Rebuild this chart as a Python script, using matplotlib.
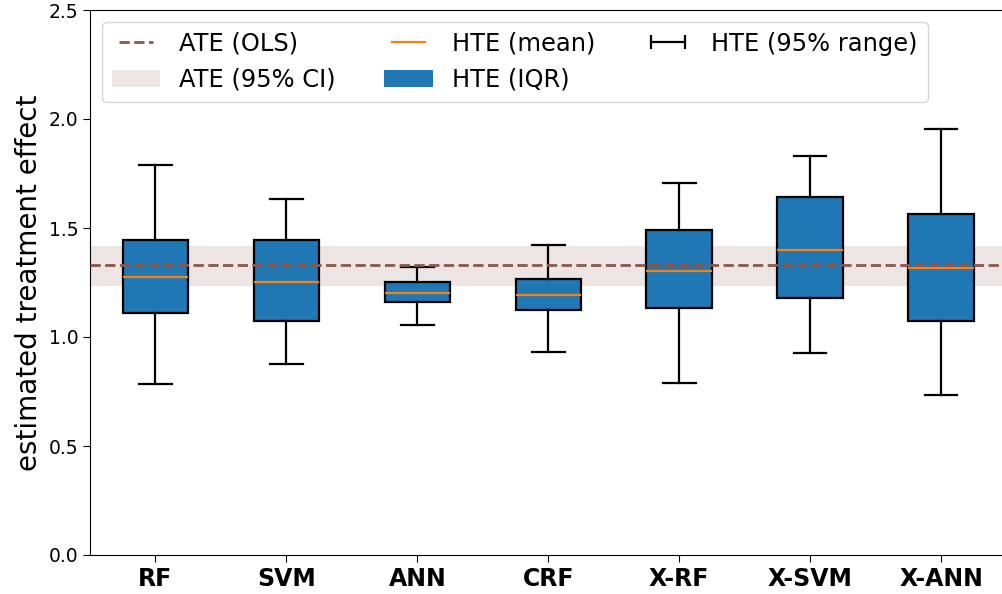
import numpy as np
import matplotlib.pyplot as plt
from matplotlib.lines import Line2D
from matplotlib.patches import Patch

# values
models = ['RF', 'SVM', 'ANN', 'CRF', 'X-RF', 'X-SVM', 'X-ANN']
hte_mean = [1.277, 1.251, 1.203, 1.193, 1.304, 1.399, 1.317]
hte_q1 = [1.109, 1.073, 1.162, 1.125, 1.135, 1.179, 1.075]
hte_q3 = [1.445, 1.445, 1.254, 1.266, 1.489, 1.644, 1.564]
hte_lo = [0.786, 0.875, 1.054, 0.930, 0.787, 0.928, 0.734]
hte_hi = [1.789, 1.633, 1.321, 1.424, 1.705, 1.830, 1.954]
ate_ols = 1.331
ate_ci = [1.235, 1.416]

fig = plt.figure(figsize=(10.02, 5.94), dpi=100)
ax = fig.add_axes([90 / 1002, 39 / 594, 916.5 / 1002, 545 / 594])

# ATE band + line
ax.axhspan(ate_ci[0], ate_ci[1], color='tab:brown', alpha=0.15, lw=0, zorder=0)
ax.axhline(ate_ols, color='tab:brown', ls='--', lw=2, zorder=3)

stats = []
for i in range(len(models)):
    stats.append({'med': hte_mean[i], 'q1': hte_q1[i], 'q3': hte_q3[i],
                  'whislo': hte_lo[i], 'whishi': hte_hi[i], 'fliers': [],
                  'label': models[i]})

ax.bxp(stats, widths=0.5, patch_artist=True, showfliers=False,
       boxprops=dict(facecolor='tab:blue', edgecolor='black', lw=1.6),
       medianprops=dict(color='tab:orange', lw=1.6),
       whiskerprops=dict(color='black', lw=1.6),
       capprops=dict(color='black', lw=1.6), zorder=2)

ax.set_ylim(0, 2.5)
ax.set_xlim(0.5, len(models) + 0.5)
ax.set_xticks(np.arange(1, len(models) + 1))
ax.set_xticklabels(models, fontsize=17, fontweight='bold')
ax.tick_params(axis='y', labelsize=13.5)
ax.tick_params(length=5)
ax.set_ylabel('estimated treatment effect', fontsize=20)

handles = [
    Line2D([], [], color='tab:brown', ls='--', lw=2),
    Patch(facecolor='tab:brown', alpha=0.15),
    Line2D([], [], color='tab:orange', lw=1.6),
    Patch(facecolor='tab:blue'),
    Line2D([], [], color='black', lw=1.6, marker='|', markersize=10, markeredgewidth=1.6),
]
labels = ['ATE (OLS)', 'ATE (95% CI)', 'HTE (mean)', 'HTE (IQR)', 'HTE (95% range)']
ax.legend(handles, labels, loc='upper left', ncol=3, fontsize=17.4, numpoints=2)

fig.savefig('out.png', dpi=100)
